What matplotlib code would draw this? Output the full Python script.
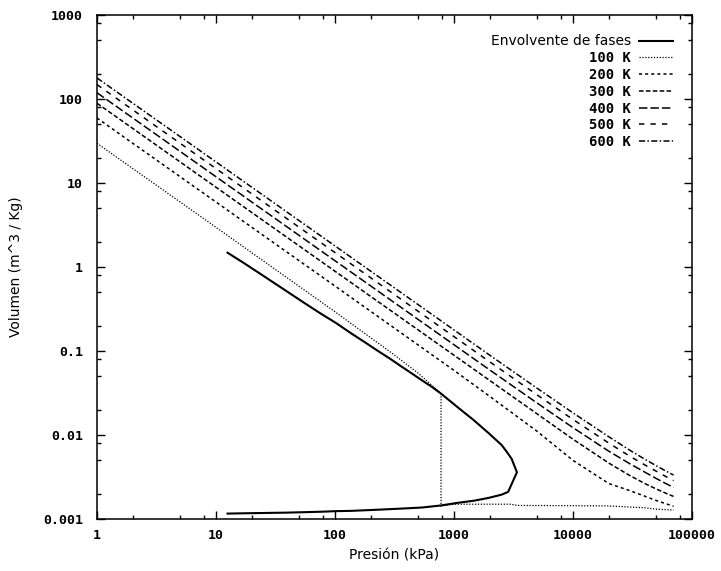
"""Isotermas del nitrogeno y envolvente de fases en un diagrama P-v log-log."""

import matplotlib.pyplot as plt
from matplotlib.ticker import LogLocator, NullFormatter

## Datos.
# Presiones (kPa) comunes a las isotermas de 200 a 600 K.
P_iso = [1, 10, 100, 1000, 2000, 5000, 10000, 20000, 30000, 40000, 50000, 60000, 70000]

# Volumen especifico (m^3/kg) de cada isoterma.
v_200 = [59.36, 5.936, 0.5936, 0.05877, 0.02879, 0.01104, 0.004986, 0.002642,
         0.002177, 0.001870, 0.001662, 0.001524, 0.001416]
v_300 = [89.04, 8.904, 0.8904, 0.08904, 0.04452, 0.01781, 0.008904, 0.004630,
         0.003294, 0.002649, 0.002279, 0.002033, 0.001857]
v_400 = [118.7, 11.87, 1.187, 0.1187, 0.05936, 0.02398, 0.01223, 0.006411,
         0.004551, 0.003621, 0.003039, 0.002651, 0.002374]
v_500 = [148.4, 14.84, 1.484, 0.1484, 0.0742, 0.02998, 0.01529, 0.008014,
         0.005590, 0.004415, 0.003710, 0.003215, 0.002862]
v_600 = [178.1, 17.81, 1.781, 0.1781, 0.0890, 0.03597, 0.01834, 0.009527,
         0.006589, 0.005164, 0.004310, 0.003740, 0.003333]

# La isoterma de 100 K cruza la zona bifasica (tramo vertical a ~778 kPa).
P_100 = [1, 10, 100, 300, 500, 778, 778, 1000, 3000, 3400, 10000, 20000, 40000, 50000, 70000]
v_100 = [29.68, 2.968, 0.293, 0.0945, 0.0545, 0.0312, 0.00143, 0.00150, 0.00150,
         0.00145, 0.00144, 0.00143, 0.00136, 0.00131, 0.00128]

# Envolvente de fases: rama de vapor hasta el punto critico y vuelta por la de liquido.
P_env = [12.5, 17.4, 25.0, 38.5, 54.2, 76.1, 101.3, 137.0, 180.0, 229.1, 290.0, 360.8,
         445.0, 540.8, 650.0, 777.9, 1082, 1467, 1943, 2513, 2800, 3050, 3380,
         2850, 2513, 1943, 1467, 1082, 778, 540, 361, 229, 137, 101.3, 76.1, 38.5, 17.4, 12.5]
v_env = [1.48, 1.10, 0.785, 0.524, 0.380, 0.278, 0.2167, 0.162, 0.126, 0.1003, 0.0810, 0.0655,
         0.0537, 0.0445, 0.0375, 0.0311, 0.0212, 0.0150, 0.0106, 0.0076, 0.0062, 0.0052, 0.00360,
         0.00210, 0.00195, 0.00178, 0.00165, 0.00156, 0.00145, 0.00137, 0.00133, 0.00129,
         0.00125, 0.00124, 0.00122, 0.00119, 0.00117, 0.00116]

x_ticks = [1, 10, 100, 1000, 10000, 100000]
x_tick_labels = ["1", "10", "100", "1000", "10000", "100000"]
y_ticks = [0.001, 0.01, 0.1, 1, 10, 100, 1000]
y_tick_labels = ["0.001", "0.01", "0.1", "1", "10", "100", "1000"]


## Figura.
fig = plt.figure(figsize=(7.21, 5.71), dpi=100)
ax = fig.add_axes([97 / 721, 52 / 571, 595 / 721, 504 / 571])

ax.plot(P_env, v_env, color="black", lw=1.5, ls="-", label="Envolvente de fases")
ax.plot(P_100, v_100, color="black", lw=0.9, ls=(0, (1, 1.3)), label="100 K")
ax.plot(P_iso, v_200, color="black", lw=1.1, ls=(0, (2, 2)), label="200 K")
ax.plot(P_iso, v_300, color="black", lw=1.1, ls=(0, (3, 1.5)), label="300 K")
ax.plot(P_iso, v_400, color="black", lw=1.1, ls=(0, (5.5, 2)), label="400 K")
ax.plot(P_iso, v_500, color="black", lw=1.1, ls=(0, (3.5, 4)), label="500 K")
ax.plot(P_iso, v_600, color="black", lw=1.1, ls=(0, (4, 1.5, 1, 1.5)), label="600 K")

ax.set_xscale("log")
ax.set_yscale("log")
ax.set_xlim(1, 100000)
ax.set_ylim(0.001, 1000)

# Ticks estilo gnuplot: hacia dentro, en los cuatro lados, menores en 2, 5 y 8.
mono = {"family": "DejaVu Sans Mono", "weight": "bold", "size": 9.5}
ax.set_xticks(x_ticks)
ax.set_xticklabels(x_tick_labels, fontdict=mono)
ax.set_yticks(y_ticks)
ax.set_yticklabels(y_tick_labels, fontdict=mono)
ax.xaxis.set_minor_locator(LogLocator(base=10, subs=[2, 5, 8]))
ax.yaxis.set_minor_locator(LogLocator(base=10, subs=[2, 5, 8]))
ax.xaxis.set_minor_formatter(NullFormatter())
ax.yaxis.set_minor_formatter(NullFormatter())
ax.tick_params(which="both", direction="in", top=True, right=True, width=1)
ax.tick_params(which="major", length=6)
ax.tick_params(which="minor", length=3)
ax.tick_params(axis="x", pad=7)
ax.tick_params(axis="y", pad=10)

for spine in ax.spines.values():
    spine.set_linewidth(1.1)

ax.set_xlabel("Presión (kPa)", fontsize=10)
ax.set_ylabel("Volumen (m^3 / Kg)", fontsize=10)
ax.xaxis.set_label_coords(0.5, -0.058)
ax.yaxis.set_label_coords(-0.125, 0.5)

# Leyenda con el texto delante de la muestra de linea, como en gnuplot.
leg = ax.legend(loc="upper right", frameon=False, markerfirst=False, fontsize=10,
                handlelength=2.4, handletextpad=0.6, labelspacing=0.2, borderaxespad=1.0)
for t in leg.get_texts()[1:]:
    t.set_family("DejaVu Sans Mono")
    t.set_weight("bold")

fig.savefig("out.png", dpi=100)
